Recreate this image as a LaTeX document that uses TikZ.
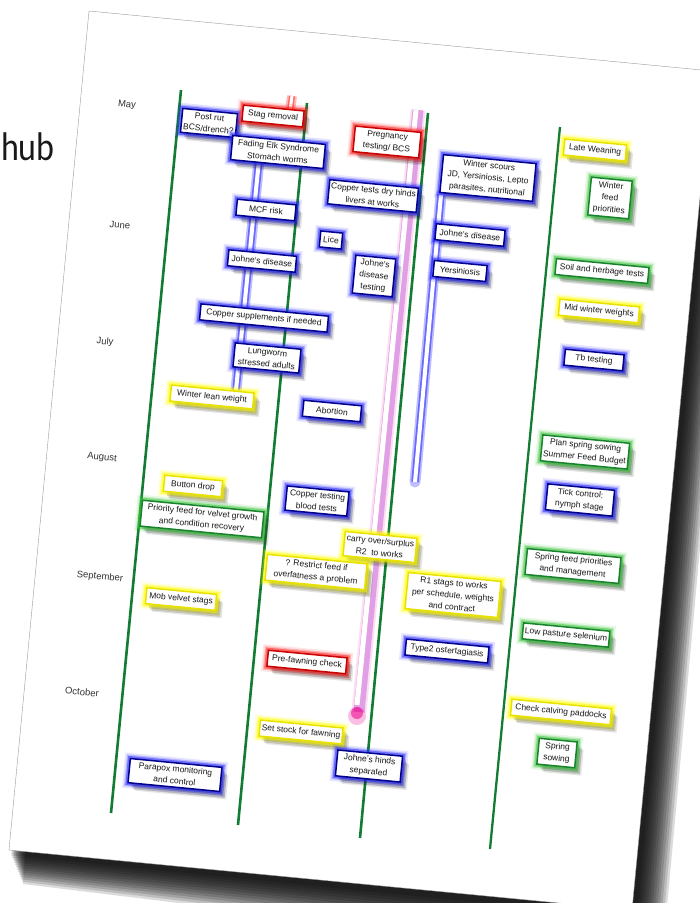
\documentclass[tikz,border=0pt]{standalone}
\usepackage{fontspec}
\setmainfont{Liberation Sans}
\newfontfamily\hubfont{Carlito}
\usetikzlibrary{shadows}
\definecolor{lgreen}{RGB}{18,125,50}
\definecolor{bglow}{RGB}{40,40,255}
\definecolor{bborder}{RGB}{0,0,140}
\definecolor{rglow}{RGB}{255,30,30}
\definecolor{rborder}{RGB}{200,0,0}
\definecolor{yglow}{RGB}{255,255,0}
\definecolor{yborder}{RGB}{235,225,0}
\definecolor{gglow}{RGB}{60,200,60}
\definecolor{gborder}{RGB}{25,130,45}
\definecolor{pbar}{RGB}{225,160,230}
\newcommand\boxfont{\fontsize{8.5}{12}\selectfont}
\newcommand\monthfont{\fontsize{9.5}{11}\selectfont}
\tikzset{
  boxshadow/.style={
    general shadow={fill=black,opacity=.15,shadow xshift=2pt,shadow yshift=-2.5pt},
    general shadow={fill=black,opacity=.17,shadow xshift=3.5pt,shadow yshift=-4.5pt},
    general shadow={fill=black,opacity=.15,shadow xshift=5pt,shadow yshift=-6.5pt},
    general shadow={fill=black,opacity=.10,shadow xshift=6.5pt,shadow yshift=-8pt}},
  glow/.style={
    preaction={draw=#1,line width=11pt,opacity=.12},
    preaction={draw=#1,line width=7.5pt,opacity=.25},
    preaction={draw=#1,line width=5pt,opacity=.5}},
  cbox/.style 2 args={boxshadow, glow=#1, draw=#2, line width=1.5pt, fill=white,
    rotate=-5.5, align=center, font=\boxfont, inner xsep=2pt, inner ysep=3pt,
    minimum height=16pt, text=black!90},
  blubox/.style={cbox={bglow}{bborder}, minimum width=#1},
  redbox/.style={cbox={rglow}{rborder}, minimum width=#1},
  yelbox/.style={cbox={yglow}{yborder}, minimum width=#1},
  grnbox/.style={cbox={gglow}{gborder}, minimum width=#1},
  month/.style={rotate=-5.5, font=\monthfont, text=black!80},
  timeline/.style={lgreen, line width=2.6pt},
}
\begin{document}
\begin{tikzpicture}[x=1pt,y=-1pt]
\useasboundingbox (0,0) rectangle (700,903);
\clip (0,0) rectangle (700,903);
\fill[white] (0,0) rectangle (700,903);
\node[anchor=base west, xscale=.85, font=\hubfont\fontsize{40}{44}\selectfont, text=black!90] (hub) at (-2,160) {hub};
% page shadow
\foreach \t in {1,.93,...,.1}{
  \fill[black,opacity=.14] ({89+6*\t},{11+6*\t}) -- ({712+30*\t},{71+20*\t}) -- ({632+30*\t},{910+52*\t}) -- ({9+14*\t},{850+34*\t}) -- cycle;
}
% page
\filldraw[fill=white, draw=black!40, line width=.4pt] (89,11) -- (712,71) -- (632,910) -- (9,850) -- cycle;
% months
\node[month] (may) at (127,105) {May};
\node[month] (june) at (120,225) {June};
\node[month] (july) at (105,342) {July};
\node[month] (aug) at (102,458) {August};
\node[month] (sep) at (100,577) {September};
\node[month] (oct) at (82,692) {October};
% glow bars
\coordinate (pa) at (418,110); \coordinate (pb) at (359,712);
\draw[magenta, line width=15pt, opacity=.12] (pa) -- (pb);
\draw[pbar, line width=11pt] (pa) -- (pb);
\draw[white, line width=5pt] (416,110) -- (357,705);
\fill[magenta, opacity=.25] (357,716) circle (9);
\fill[magenta, opacity=.55] (357,713) circle (6);
\coordinate (ra) at (292,96); \coordinate (rb) at (289,118);
\draw[rglow, line width=10pt, opacity=.3] (ra) -- (rb);
\draw[red!60, line width=6pt] (ra) -- (rb);
\draw[white, line width=3pt] (ra) -- (rb);
\coordinate (ba) at (259,160); \coordinate (bb) at (236,390);
\draw[bglow, line width=11pt, opacity=.3, line cap=round] (ba) -- (bb);
\draw[bglow!70, line width=7.5pt] (ba) -- (bb);
\draw[white, line width=4pt] (ba) -- (bb);
\coordinate (bc) at (441,195); \coordinate (bd) at (415,482);
\draw[bglow, line width=11pt, opacity=.3, line cap=round] (bc) -- (bd);
\draw[bglow!70, line width=7.5pt] (bc) -- (bd);
\draw[white, line width=4pt] (bc) -- (bd);
% time lines
\coordinate (l1a) at (181,90);  \coordinate (l1b) at (111,813);
\coordinate (l2a) at (307,103); \coordinate (l2b) at (238,825);
\coordinate (l3a) at (428,113); \coordinate (l3b) at (360,838);
\coordinate (l4a) at (560,127); \coordinate (l4b) at (490,849);
\draw[timeline] (l1a) -- (l1b);
\draw[timeline] (l2a) -- (l2b);
\draw[timeline] (l3a) -- (l3b);
\draw[timeline, line width=2.3pt] (l4a) -- (l4b);
% boxes
\node[blubox=55pt] (postrut) at (209,123) {Post rut\\BCS/drench?};
\node[redbox=61pt] (stag) at (273,116) {Stag removal};
\node[blubox=93pt] (fading) at (278,152) {Fading Elk Syndrome\\Stomach worms};
\node[blubox=59pt] (mcf) at (266,210) {MCF risk};
\node[blubox=22pt] (lice) at (331,240) {Lice};
\node[blubox=68pt] (johneA) at (262,261) {Johne’s disease};
\node[blubox=40pt] (jtest) at (374,276) {Johne’s\\disease\\testing};
\node[blubox=128pt] (copsup) at (264,318) {Copper supplements if needed};
\node[blubox=66pt] (lung) at (267,358) {Lungworm\\stressed adults};
\node[yelbox=83pt] (wlean) at (212,397) {Winter lean weight};
\node[blubox=58pt] (abort) at (332,411) {Abortion};
\node[redbox=66pt] (preg) at (387,142) {Pregnancy\\testing/ BCS};
\node[blubox=87pt] (coptest) at (373,196) {Copper tests dry hinds\\livers at works};
\node[blubox=93pt] (scours) at (488,178) {Winter scours\\JD, Yersiniosis, Lepto\\parasites, nutritional};
\node[blubox=69pt] (johneB) at (470,235) {Johne’s disease};
\node[blubox=53pt] (yers) at (460,271) {Yersiniosis};
\node[yelbox=62pt] (late) at (595,150) {Late Weaning};
\node[grnbox=41pt] (wfeed) at (610,198) {Winter\\feed\\priorities};
\node[grnbox=93pt] (soil) at (602,271) {Soil and herbage tests};
\node[yelbox=80pt] (midw) at (599,311) {Mid winter weights};
\node[blubox=59pt] (tb) at (594,360) {Tb testing};
\node[grnbox=87pt] (plan) at (585,452) {Plan spring sowing\\Summer Feed Budget};
\node[blubox=67pt] (tick) at (580,500) {Tick control:\\nymph stage};
\node[yelbox=58pt] (button) at (193,486) {Button drop};
\node[grnbox=122pt] (priority) at (202,519) {Priority feed for velvet growth\\and condition recovery};
\node[blubox=62pt] (copblood) at (317,501) {Copper testing\\blood tests};
\node[yelbox=72pt] (carry) at (380,547) {carry over/surplus\\R2\ \ to works};
\node[yelbox=100pt] (restrict) at (316,572) {? Restrict feed if\\overfatness a problem};
\node[yelbox=70pt] (mob) at (181,599) {Mob velvet stags};
\node[redbox=79pt] (prefawn) at (307,662) {Pre-fawning check};
\node[yelbox=93pt] (rone) at (453,595) {R1 stags to works\\per schedule, weights\\and contract};
\node[blubox=83pt] (type2) at (447,651) {Type2 ostertagiasis};
\node[grnbox=94pt] (sfeed) at (573,566) {Spring feed priorities\\and management};
\node[grnbox=86pt] (lowsel) at (566,635) {Low pasture selenium};
\node[yelbox=100pt] (checkc) at (561,712) {Check calving paddocks};
\node[grnbox=38pt] (ssow) at (557,753) {Spring\\sowing};
\node[yelbox=81pt] (setstock) at (301,732) {Set stock for fawning};
\node[blubox=65pt] (jhinds) at (369,766) {Johne’s hinds\\separated};
\node[blubox=92pt] (parapox) at (175,775) {Parapox monitoring\\and control};
\end{tikzpicture}
\end{document}
